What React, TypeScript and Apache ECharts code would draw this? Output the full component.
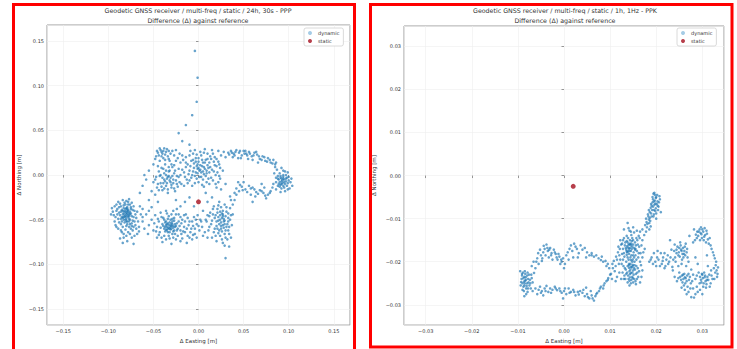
import React, { useEffect, useRef } from "react";
import * as echarts from "echarts";

// Left panel: 24h, 30s - PPP (values in millimetres: [ΔEasting, ΔNorthing])
const leftDynamicMm: number[][] = [
  // west cluster
  [-82,-40],[-80,-42],[-79,-38],[-84,-44],[-78,-45],[-81,-47],[-76,-41],[-85,-39],[-83,-50],[-79,-52],[-77,-49],[-74,-46],[-88,-42],[-90,-38],[-86,-35],[-81,-33],[-78,-30],[-75,-36],[-73,-51],[-76,-55],[-80,-57],[-84,-58],[-88,-53],[-92,-47],[-95,-41],[-93,-35],[-89,-30],[-84,-28],[-77,-27],[-71,-40],[-69,-48],[-70,-56],[-73,-62],[-78,-64],[-83,-66],[-87,-71],[-84,-76],[-79,-74],[-74,-70],[-68,-66],[-66,-58],[-62,-52],[-64,-44],[-97,-44],[-91,-58],[-80,-44],[-82,-46],[-79,-43],[-83,-42],[-77,-52],[-75,-38],[-60,-60],[-72,-77],[-65,-35],[-86,-62],
  [-81,-41],[-78,-47],[-80,-49],[-83,-37],[-76,-44],[-85,-47],[-79,-36],[-82,-53],
  [-87,-45],[-86,-41],[-84,-48],[-83,-34],[-82,-44],[-81,-50],[-80,-37],[-80,-46],[-79,-55],[-78,-41],[-78,-33],[-77,-46],[-76,-50],[-75,-43],[-74,-54],[-73,-39],[-72,-47],[-71,-52],[-85,-52],[-86,-55],[-89,-49],[-90,-44],[-91,-40],[-88,-36],[-87,-32],[-82,-31],[-80,-29],[-76,-33],[-74,-31],[-72,-35],[-70,-44],[-68,-41],[-67,-52],[-69,-60],[-72,-58],[-75,-60],[-77,-58],[-81,-61],[-85,-64],[-89,-60],[-93,-52],[-94,-45],[-96,-37],[-91,-33],[-83,-70],[-80,-68],[-76,-66],[-71,-68],[-66,-63],[-62,-47],[-79,-40],[-81,-38],[-84,-40],[-77,-43],[-83,-47],[-80,-52],[-78,-39],[-86,-49],[-74,-57],[-92,-56],
  // south-middle cluster
  [-33,-56],[-30,-54],[-35,-58],[-28,-59],[-36,-52],[-31,-61],[-26,-55],[-38,-60],[-40,-55],[-34,-64],[-29,-66],[-24,-62],[-22,-52],[-27,-48],[-33,-46],[-39,-48],[-44,-52],[-46,-58],[-43,-64],[-38,-68],[-32,-71],[-25,-72],[-19,-66],[-16,-58],[-18,-50],[-22,-44],[-28,-40],[-36,-40],[-48,-45],[-52,-50],[-55,-56],[-50,-62],[-46,-70],[-40,-75],[-30,-77],[-20,-74],[-12,-68],[-8,-60],[-10,-52],[-5,-47],[-2,-55],[1,-62],[-4,-66],[-14,-44],[-30,-57],[-32,-53],[-35,-55],[-26,-58],[-37,-63],[-42,-42],[-24,-38],[-13,-76],[-7,-72],
  [-31,-58],[-29,-52],[-34,-60],[-27,-62],[-36,-56],
  [-39,-57],[-37,-53],[-36,-61],[-34,-49],[-33,-59],[-32,-64],[-31,-50],[-30,-60],[-29,-55],[-28,-63],[-27,-51],[-26,-66],[-25,-57],[-24,-54],[-23,-60],[-21,-57],[-20,-62],[-19,-54],[-17,-63],[-15,-52],[-13,-60],[-11,-56],[-9,-64],[-6,-57],[-4,-60],[-3,-50],[-7,-52],[-12,-48],[-16,-45],[-20,-47],[-25,-44],[-30,-44],[-35,-43],[-41,-47],[-45,-49],[-49,-54],[-47,-63],[-44,-67],[-41,-70],[-36,-72],[-33,-68],[-28,-70],[-23,-68],[-18,-71],[-15,-64],[-10,-70],[-6,-67],[-2,-70],[0,-57],[2,-50],[-1,-45],[-38,-50],[-34,-54],[-31,-56],[-37,-58],[-28,-57],[-32,-60],[-35,-62],[-29,-49],[-42,-59],
  // south-east cluster
  [26,-48],[28,-52],[24,-45],[30,-46],[22,-51],[27,-56],[31,-58],[25,-60],[20,-57],[18,-48],[21,-42],[27,-40],[33,-43],[35,-50],[33,-62],[29,-66],[24,-68],[17,-64],[14,-55],[12,-46],[16,-38],[22,-34],[29,-33],[35,-37],[37,-56],[32,-72],[27,-76],[20,-74],[11,-62],[9,-52],[34,-80],[28,-49],[25,-53],[23,-30],[15,-70],[38,-44],[30,-93],
  [19,-45],[20,-52],[21,-60],[22,-47],[23,-55],[24,-41],[25,-57],[26,-63],[27,-44],[28,-59],[29,-51],[30,-62],[31,-41],[32,-55],[33,-48],[34,-58],[36,-45],[30,-70],[26,-72],[22,-65],[18,-60],[15,-51],[13,-42],[17,-35],[25,-36],[31,-36],[34,-66],[29,-79],[23,-62],[16,-44],[27,-46],[24,-50],[29,-55],[21,-38],[12,-58],[36,-70],[19,-68],[10,-45],[33,-52],[26,-43],
  [4,-58],[7,-64],[10,-70],[5,-68],[3,-52],[8,-50],
  [-58,-44],[-55,-40],[-52,-36],[-62,-38],[-56,-66],
  // northern blob
  [-40,24],[-42,28],[-38,30],[-36,26],[-44,22],[-39,19],[-34,21],[-46,27],[-43,16],[-48,18],[-35,29],[-31,24],[-32,16],[-50,12],[-45,10],[-37,12],
  [-35,-4],[-33,-1],[-37,-7],[-31,-8],[-38,2],[-40,-3],[-42,-9],[-36,-12],[-30,-14],[-28,-5],[-27,2],[-32,5],[-44,4],[-47,-2],[-50,-8],[-46,-14],[-40,-17],[-34,-20],[-26,-18],[-24,-10],[-52,-18],[-55,5],[-58,-5],[-62,-12],[-48,-22],[-41,8],[-29,9],[-34,-2],[-38,-5],
  [-48,-5],[-45,-10],[-43,-1],[-41,-13],[-39,-9],[-38,-15],[-36,0],[-35,-9],[-34,-16],[-33,4],[-32,-6],[-31,-3],[-30,-11],[-29,-1],[-28,-9],[-27,-15],[-26,5],[-25,-6],[-24,-1],[-23,-13],[-22,7],[-21,-8],[-20,0],[-19,-10],[-44,-17],[-42,0],[-39,7],[-36,5],[-33,9],[-30,12],[-27,11],[-23,19],[-21,24],[-27,22],[-29,27],[-33,27],[-37,23],[-41,26],[-43,30],[-39,27],[-45,25],[-47,21],[-41,21],[-37,17],[-33,18],
  [2,6],[0,8],[5,4],[-3,3],[4,10],[7,7],[-1,12],[-5,8],[9,2],[11,8],[3,-2],[-2,-4],[-7,0],[-10,5],[-12,12],[-8,16],[-3,19],[3,22],[8,17],[12,14],[15,6],[14,-3],[9,-8],[4,-11],[-4,-9],[-10,-6],[-15,-2],[-18,6],[-20,14],[-14,20],[-6,24],[2,26],[10,24],[18,20],[20,10],[19,0],[22,-8],[-16,-12],[1,5],[-1,7],[6,1],[-22,-2],[-18,22],[-25,16],[-25,28],
  [-16,3],[-14,9],[-13,-5],[-11,1],[-9,10],[-8,-3],[-6,4],[-5,13],[-4,-1],[-2,10],[-1,2],[0,15],[1,-2],[2,11],[3,3],[4,17],[5,-5],[6,9],[7,14],[8,-1],[9,5],[10,11],[11,-4],[12,3],[13,9],[14,18],[16,-6],[17,4],[18,11],[19,-10],[21,3],[22,15],[23,-1],[24,8],[-12,-9],[-7,-12],[0,-8],[6,-13],[12,-10],[-17,17],[-10,22],[-2,23],[6,25],[13,21],[-4,28],[7,29],[-9,27],[0,19],[5,14],[-3,15],[10,18],[16,24],[-14,14],[-6,17],
  [17,15],[20,18],[23,12],[25,22],[28,26],[30,20],[22,27],[15,28],[27,5],[24,-4],[20,-14],[25,-16],[30,-10],
  // eastern arc and cluster
  [33,25],[36,27],[39,24],[42,28],[45,25],[48,22],[50,27],[53,24],[56,26],[59,21],[62,25],[65,23],[68,18],[71,21],[74,16],[77,19],[80,14],[83,17],[85,12],[44,19],[55,18],[66,14],[38,20],
  [34,23],[37,25],[41,26],[46,27],[51,24],[54,22],[57,24],[61,22],[64,26],[67,21],[70,17],[73,20],[76,15],[79,17],[82,13],[86,14],[40,22],[47,19],[60,17],[52,27],
  [93,-6],[91,-3],[95,-8],[89,-5],[97,-4],[92,-10],[88,-1],[94,0],[98,-12],[90,-13],[86,-8],[84,2],[87,6],[92,8],[96,4],[100,-2],[102,-8],[101,-15],[96,-18],[91,-19],[86,-16],[83,-10],[94,-4],[92,-7],[104,-12],[99,3],[85,9],
  [90,-8],[91,-1],[92,-4],[93,-9],[94,-2],[95,-5],[96,-10],[97,-7],[98,-3],[99,-9],[89,-10],[88,-4],[90,2],[94,5],[97,0],[100,-6],[95,-14],[92,-15],[88,-12],[103,-4],[86,-3],[91,-11],[94,-12],[99,-16],
  [80,-18],[77,-22],[72,-20],[68,-17],[64,-19],[60,-14],[56,-12],[52,-16],[48,-13],[45,-18],[42,-22],[40,-28],[38,-33],[75,-26],[58,-22],[50,-8],[44,-8],
  [82,-14],[79,-20],[74,-23],[70,-18],[66,-21],[62,-16],[58,-15],[54,-19],[49,-17],[46,-11],[42,-15],[40,-20],[36,-28],[35,-24],[73,-14],[63,-24],
  // outliers and sparse fill
  [-4,139],[-1,109],[-2,82],[-7,67],[-14,56],[-22,47],[-18,38],[-10,34],
  [-15,-30],[-10,-25],[-5,-35],[10,-30],[-20,-35],[5,-40],[15,-25],[-45,-30],[-25,-28],[8,-20],[-55,-28],[60,-30],[70,-10],[-60,0],[-65,-20],
];
const leftStaticMm: number[][] = [[0, -30]];

// Right panel: 1h, 1Hz - PPK (values in tenths of a millimetre)
const rightDynamicTenthMm: number[][] = [
  [-84,-244],[-88,-238],[-80,-250],[-91,-232],[-86,-255],[-78,-240],[-93,-247],[-82,-262],[-75,-255],[-89,-225],[-84,-228],[-76,-230],[-70,-238],[-72,-262],[-79,-270],[-86,-280],[-95,-222],[-90,-265],[-68,-248],[-65,-226],[-87,-246],[-83,-236],
  [-92,-240],[-90,-250],[-88,-258],[-86,-235],[-85,-250],[-83,-242],[-81,-256],[-80,-232],[-78,-262],[-77,-248],[-74,-242],[-73,-250],[-71,-230],[-87,-268],[-82,-275],[-94,-255],[-91,-228],[-85,-222],[-79,-225],
  [-70,-210],[-66,-200],[-62,-215],[-58,-192],[-55,-205],[-50,-185],[-45,-178],[-42,-170],[-38,-160],[-35,-175],[-40,-185],[-30,-168],[-27,-180],[-33,-190],[-22,-172],[-18,-182],[-14,-195],[-10,-188],[-5,-200],[-2,-192],[2,-205],[5,-185],[8,-178],[12,-170],[15,-162],[18,-175],[22,-158],[25,-165],[28,-170],[32,-180],[36,-162],[40,-172],[45,-168],[50,-178],[55,-185],[60,-180],[65,-188],[70,-185],[75,-192],[80,-196],[85,-200],[90,-198],[95,-205],[-48,-198],[-25,-195],[0,-215],[10,-195],[30,-190],[-52,-172],[-8,-205],[20,-190],[48,-190],
  [-60,-200],[-56,-180],[-47,-192],[-44,-163],[-36,-168],[-32,-172],[-28,-185],[-20,-178],[-16,-190],[-12,-182],[-6,-195],[60,-185],[82,-188],[92,-210],[98,-215],[105,-205],
  [-68,-268],[-62,-262],[-58,-275],[-52,-258],[-48,-268],[-42,-262],[-38,-256],[-34,-270],[-30,-262],[-25,-265],[-20,-258],[-15,-266],[-10,-262],[-5,-272],[0,-268],[5,-275],[10,-262],[15,-270],[20,-265],[25,-278],[30,-270],[35,-268],[40,-272],[45,-280],[50,-275],[55,-285],[60,-278],[65,-290],[68,-280],[72,-272],[76,-268],[80,-258],[85,-262],[88,-250],[92,-245],[96,-238],[100,-230],[104,-240],[58,-268],[48,-260],[-45,-278],[-2,-285],
  [-55,-265],[-50,-272],[-40,-268],[-28,-272],[-18,-262],[-8,-268],[2,-262],[12,-272],[22,-270],[32,-276],[42,-265],[52,-282],[62,-285],[70,-275],[78,-262],[86,-255],[95,-242],[102,-228],
  [139,-167],[142,-160],[135,-172],[145,-175],[138,-155],[148,-165],[132,-162],[141,-182],[150,-150],[155,-170],[130,-180],[128,-150],[136,-140],[146,-138],[157,-145],[160,-160],[162,-180],[152,-190],[140,-195],[128,-195],[120,-185],[118,-165],[122,-150],[147,-213],[144,-205],[150,-220],[142,-222],[153,-208],[138,-210],[156,-228],[148,-235],[140,-240],[135,-228],[132,-215],[125,-205],[160,-215],[165,-200],[158,-240],[150,-248],[145,-250],[130,-240],[120,-225],[112,-210],[108,-198],[115,-235],[170,-190],[175,-170],[170,-150],[165,-130],[150,-120],[138,-110],[130,-125],[142,-128],[148,-200],[141,-170],[137,-164],[144,-218],[152,-215],[112,-245],[168,-235],
  [143,-168],[136,-176],[146,-158],[149,-210],[141,-214],[145,-226],
  [126,-158],[128,-170],[130,-145],[131,-188],[133,-155],[134,-168],[135,-200],[136,-152],[137,-178],[138,-190],[139,-145],[140,-160],[141,-205],[142,-175],[143,-150],[144,-190],[145,-162],[146,-185],[147,-170],[148,-145],[149,-195],[150,-160],[151,-178],[152,-168],[153,-200],[154,-155],[155,-185],[156,-162],[157,-195],[158,-175],[159,-150],[161,-190],[163,-165],[164,-145],[166,-180],[134,-218],[137,-225],[139,-232],[141,-208],[143,-236],[145,-212],[146,-242],[148,-225],[149,-238],[151,-230],[152,-240],[154,-218],[155,-245],[157,-210],[159,-225],[161,-235],[163,-222],[127,-225],[129,-210],[131,-232],[133,-240],[124,-240],[122,-195],[119,-205],[117,-178],[115,-195],[121,-170],[124,-160],[126,-182],[140,-122],[145,-130],[152,-132],[158,-128],[162,-140],[168,-162],[172,-178],[167,-208],[170,-220],[165,-248],[138,-248],[142,-255],[110,-222],[106,-215],[113,-188],[143,-158],[147,-152],[139,-176],[145,-196],[149,-207],[143,-229],[136,-184],[150,-185],[154,-172],[142,-244],[156,-252],
  [180,-120],[185,-110],[178,-100],[190,-95],[186,-85],[195,-80],[190,-70],[198,-65],[193,-55],[200,-50],[197,-45],[203,-60],[188,-75],[182,-90],[205,-72],[195,-90],[176,-115],[170,-125],[208,-55],[192,-62],[199,-76],[184,-102],[196,-40],[210,-85],
  [181,-112],[183,-95],[187,-105],[189,-88],[191,-80],[193,-72],[194,-95],[196,-68],[197,-58],[199,-52],[201,-66],[202,-45],[204,-80],[206,-62],[200,-88],[188,-118],[185,-125],[179,-108],[192,-50],[198,-82],[203,-70],[195,-60],[189,-66],[186,-98],[207,-48],[194,-42],[184,-80],[200,-100],[178,-130],[174,-138],
  [190,-190],[198,-200],[205,-195],[212,-205],[220,-210],[228,-200],[235,-212],[200,-210],[185,-200],[215,-190],[225,-185],[195,-180],
  [188,-195],[193,-205],[202,-190],[208,-210],[214,-198],[218,-215],[222,-195],[226,-205],[231,-190],[210,-180],[203,-175],[218,-180],
  [255,-175],[250,-168],[260,-182],[248,-185],[262,-165],[256,-195],[244,-172],[266,-178],[240,-160],[252,-155],[298,-136],[292,-130],[304,-142],[288,-145],[300,-125],[310,-135],[282,-125],[295,-150],[308,-155],[316,-145],[262,-236],[258,-230],[266,-245],[254,-242],[270,-228],[250,-225],[275,-250],[260,-255],[245,-245],[305,-236],[300,-230],[310,-242],[298,-248],[315,-230],[292,-225],[318,-250],[308,-260],[285,-240],[320,-170],[325,-185],[330,-200],[334,-213],[328,-225],[322,-240],[276,-282],[270,-270],[285,-275],[295,-265],[280,-262],[240,-235],[236,-220],[242,-200],[280,-155],[285,-190],[270,-200],[290,-205],[312,-210],[276,-218],[265,-210],[310,-185],[230,-150],[272,-140],[332,-235],[300,-275],
  [246,-165],[249,-178],[251,-188],[253,-162],[254,-172],[257,-182],[258,-168],[259,-190],[261,-175],[263,-185],[264,-158],[267,-170],[268,-190],[244,-180],[241,-190],[239,-175],
  [289,-130],[291,-140],[294,-125],[296,-133],[299,-145],[302,-130],[303,-150],[306,-138],[309,-128],[312,-148],[286,-137],[284,-150],[297,-120],[305,-122],
  [256,-232],[259,-240],[261,-228],[263,-250],[264,-238],[267,-232],[268,-258],[271,-242],[273,-235],[257,-248],[252,-235],[248,-238],[255,-260],[262,-265],[278,-245],[280,-230],
  [295,-235],[297,-242],[299,-228],[301,-238],[303,-250],[306,-232],[307,-245],[309,-252],[311,-235],[313,-242],[302,-258],[304,-225],[294,-250],[288,-232],[316,-258],[320,-232],[325,-215],[329,-208],[327,-192],[323,-178],[318,-162],[314,-158],[326,-240],[331,-220],[333,-228],[319,-220],[290,-270],[282,-283],[274,-262],[266,-275],[288,-258],[248,-210],[255,-205],[237,-195],[233,-172],
];
const rightStaticTenthMm: number[][] = [[20, -25]];

const leftTitle = ["Geodetic GNSS receiver / multi-freq / static / 24h, 30s - PPP", "Difference (Δ) against reference"];
const rightTitle = ["Geodetic GNSS receiver / multi-freq / static / 1h, 1Hz - PPK", "Difference (Δ) against reference"];
const leftRange = [-0.168, 0.168];
const rightRange = [-0.0347, 0.0347];
const leftStep = 0.05;
const rightStep = 0.01;

const FONT = "DejaVu Sans";
const TXT = "#333333";
const DOT = "rgba(31,119,180,0.85)";

function tickFmt(step: number) {
  return (v: number) => {
    const k = v / step;
    if (Math.abs(k - Math.round(k)) > 1e-6) return "";
    const s = (Math.round(k) * step).toFixed(2);
    return s === "-0.00" ? "0.00" : s.replace("-", "\u2212");
  };
}

function axis(range: number[], step: number, gridIndex: number, name: string, nameGap: number) {
  return {
    type: "value",
    gridIndex,
    min: range[0],
    max: range[1],
    splitNumber: 6,
    name,
    nameLocation: "middle",
    nameGap,
    nameTextStyle: { fontFamily: FONT, fontSize: 5.5, color: TXT },
    axisLine: { show: false },
    axisTick: { show: true, length: 2.5, lineStyle: { color: "#555", width: 0.6 } },
    axisLabel: {
      formatter: tickFmt(step),
      fontFamily: FONT,
      fontSize: 5,
      color: TXT,
      margin: 3,
      showMinLabel: false,
      showMaxLabel: false,
    },
    splitLine: { show: true, lineStyle: { color: "#efefef", width: 0.6 } },
  };
}

function legend(left: number) {
  return {
    left,
    top: 28,
    orient: "vertical",
    selectedMode: false,
    data: [
      { name: "dynamic", icon: "circle", itemStyle: { color: "#8fbfe0" } },
      { name: "static", icon: "circle", itemStyle: { color: "#a50f1e" } },
    ],
    itemWidth: 4,
    itemHeight: 4,
    itemGap: 2,
    padding: [2, 4, 2, 4],
    backgroundColor: "#fff",
    borderColor: "#d0d0d0",
    borderWidth: 0.8,
    borderRadius: 2,
    textStyle: { fontFamily: FONT, fontSize: 5, color: TXT, lineHeight: 6, padding: [0, 0, 0, 1] },
  };
}

export default function App() {
  const ref = useRef<HTMLDivElement>(null);
  useEffect(() => {
    document.body.style.margin = "0";
    if (!ref.current) return;
    const chart = echarts.init(ref.current, null, { renderer: "svg" });
    const leftDyn = leftDynamicMm.map(([x, y]) => [x / 1000, y / 1000]);
    const leftSta = leftStaticMm.map(([x, y]) => [x / 1000, y / 1000]);
    const rightDyn = rightDynamicTenthMm.map(([x, y]) => [x / 10000, y / 10000]);
    const rightSta = rightStaticTenthMm.map(([x, y]) => [x / 10000, y / 10000]);

    const titleText = (lines: string[], cx: number) =>
      lines.map((t, i) => ({
        type: "text",
        x: cx,
        y: 10 + i * 10,
        style: { text: t, fontFamily: FONT, fontSize: 6.3, fill: TXT, align: "center", verticalAlign: "middle" },
        z: 10,
      }));

    chart.setOption({
      animation: false,
      backgroundColor: "#ffffff",
      grid: [
        { left: 47, top: 25, width: 303, height: 304, show: true, borderColor: "#9a9a9a", borderWidth: 1, backgroundColor: "#fff" },
        { left: 404, top: 26, width: 320, height: 302, show: true, borderColor: "#9a9a9a", borderWidth: 1, backgroundColor: "#fff" },
      ],
      xAxis: [
        axis(leftRange, leftStep, 0, "Δ Easting [m]", 10),
        axis(rightRange, rightStep, 1, "Δ Easting [m]", 10),
      ],
      yAxis: [
        axis(leftRange, leftStep, 0, "Δ Northing [m]", 25),
        axis(rightRange, rightStep, 1, "Δ Northing [m]", 27),
      ],
      legend: [legend(304), legend(677)],
      series: [
        { name: "dynamic", type: "scatter", xAxisIndex: 0, yAxisIndex: 0, data: leftDyn, symbolSize: 2.6, itemStyle: { color: DOT }, silent: true },
        { name: "static", type: "scatter", xAxisIndex: 0, yAxisIndex: 0, data: leftSta, symbolSize: 5, itemStyle: { color: "#a50f1e" }, z: 5 },
        { name: "dynamic", type: "scatter", xAxisIndex: 1, yAxisIndex: 1, data: rightDyn, symbolSize: 2.6, itemStyle: { color: DOT }, silent: true },
        { name: "static", type: "scatter", xAxisIndex: 1, yAxisIndex: 1, data: rightSta, symbolSize: 5, itemStyle: { color: "#a50f1e" }, z: 5 },
      ],
      graphic: [
        ...titleText(leftTitle, 198),
        ...titleText(rightTitle, 565),
        { type: "rect", shape: { x: 13.5, y: 4.5, width: 341, height: 352 }, style: { fill: "none", stroke: "#ff0000", lineWidth: 3 }, z: 20, silent: true },
        { type: "rect", shape: { x: 370.5, y: 4.5, width: 361.5, height: 342.5 }, style: { fill: "none", stroke: "#ff0000", lineWidth: 3 }, z: 20, silent: true },
      ],
    });
    return () => chart.dispose();
  }, []);
  return <div ref={ref} style={{ width: 737, height: 349 }} />;
}
